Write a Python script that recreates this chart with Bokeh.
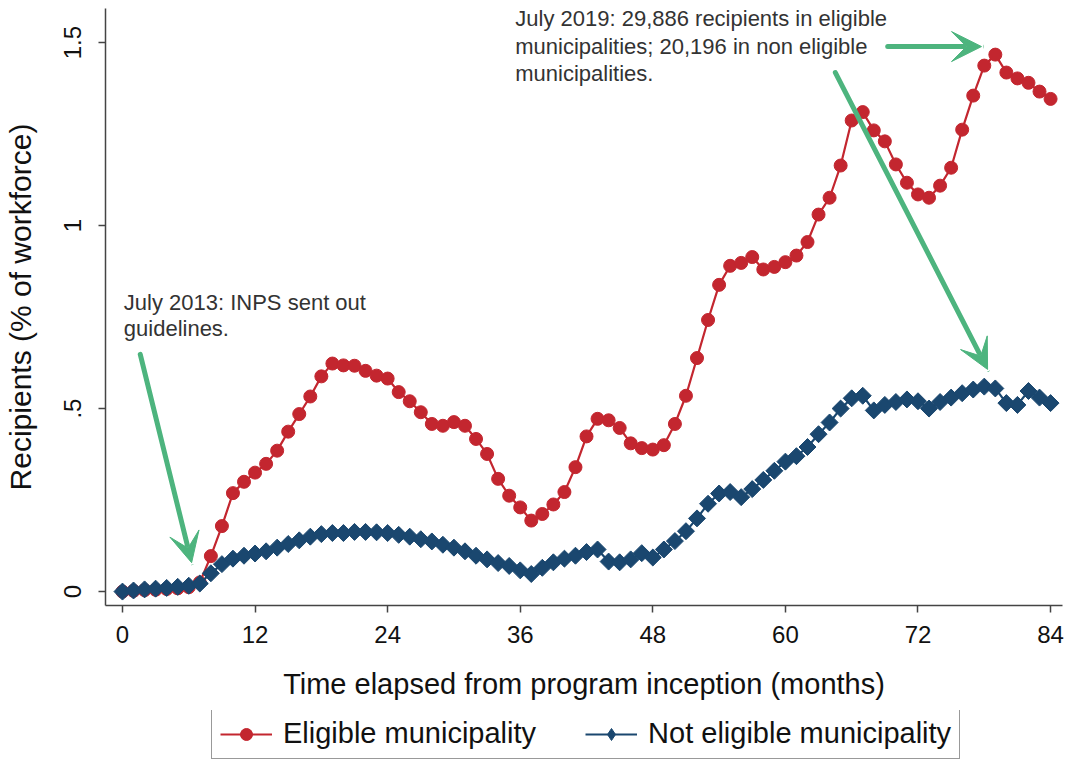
import numpy as np
from bokeh.plotting import figure
from bokeh.layouts import column
from bokeh.models import (Range1d, FixedTicker, Legend, LegendItem, Label, Arrow, VeeHead)
from bokeh.embed import file_html
from bokeh.resources import INLINE

# ---------------- data ----------------
months = list(range(0, 85))

eligible = [
    0.000, 0.002, 0.004, 0.005, 0.007, 0.009, 0.012, 0.025, 0.097, 0.179,
    0.269, 0.300, 0.325, 0.349, 0.385, 0.437, 0.485, 0.533, 0.588, 0.623,
    0.618, 0.617, 0.603, 0.590, 0.582, 0.545, 0.520, 0.490, 0.458, 0.453,
    0.463, 0.453, 0.417, 0.376, 0.308, 0.262, 0.230, 0.194, 0.212, 0.238,
    0.272, 0.340, 0.424, 0.472, 0.468, 0.447, 0.405, 0.392, 0.388, 0.400,
    0.458, 0.535, 0.638, 0.742, 0.838, 0.890, 0.898, 0.914, 0.880, 0.887,
    0.900, 0.918, 0.955, 1.030, 1.076, 1.164, 1.287, 1.310, 1.260, 1.230,
    1.167, 1.117, 1.085, 1.076, 1.109, 1.158, 1.262, 1.355, 1.437, 1.467,
    1.418, 1.402, 1.390, 1.366, 1.346,
]

not_eligible = [
    0.000, 0.003, 0.006, 0.008, 0.010, 0.013, 0.016, 0.022, 0.050, 0.075,
    0.090, 0.098, 0.104, 0.110, 0.120, 0.130, 0.140, 0.150, 0.157, 0.160,
    0.160, 0.163, 0.163, 0.162, 0.160, 0.155, 0.150, 0.143, 0.137, 0.128,
    0.120, 0.110, 0.098, 0.088, 0.078, 0.070, 0.058, 0.048, 0.065, 0.080,
    0.090, 0.098, 0.108, 0.115, 0.082, 0.080, 0.088, 0.105, 0.093, 0.115,
    0.138, 0.165, 0.200, 0.240, 0.268, 0.272, 0.258, 0.280, 0.305, 0.330,
    0.355, 0.370, 0.395, 0.430, 0.462, 0.500, 0.528, 0.535, 0.495, 0.510,
    0.518, 0.525, 0.520, 0.500, 0.518, 0.530, 0.542, 0.552, 0.560, 0.555,
    0.515, 0.510, 0.548, 0.530, 0.515,
]

x_ticks = [0, 12, 24, 36, 48, 60, 72, 84]
y_ticks = [0, 0.5, 1, 1.5]
y_tick_labels = ["0", ".5", "1", "1.5"]

series_names = ["Eligible municipality", "Not eligible municipality"]
x_title = "Time elapsed from program inception (months)"
y_title = "Recipients (% of workforce)"
note_2013 = ["July 2013: INPS sent out", "guidelines."]
note_2019 = ["July 2019: 29,886 recipients in eligible",
             "municipalities; 20,196 in non eligible",
             "municipalities."]

# ---------------- style ----------------
FONT = "Liberation Sans"
RED = "#C3262F"
BLUE = "#1A476F"
GREEN = "#4DB47E"
AXIS = "#444444"
W = 1065

p = figure(width=W, height=710,
           x_range=Range1d(-1.536, 85.08), y_range=Range1d(-0.038, 1.593),
           output_backend="svg", toolbar_location=None,
           min_border_left=103, min_border_right=3, min_border_top=8,
           min_border_bottom=105)
p.outline_line_color = None
p.grid.visible = False
p.background_fill_color = "white"
p.border_fill_color = "white"

# series
p.line(months, eligible, line_color=RED, line_width=2.2)
p.scatter(months, eligible, marker="circle", size=13, fill_color=RED, line_color=RED)
p.line(months, not_eligible, line_color=BLUE, line_width=2.2)
p.scatter(months, not_eligible, marker="square", size=12, angle=np.pi / 4,
          fill_color=BLUE, line_color=BLUE)

# axes
for ax in (p.xaxis[0], p.yaxis[0]):
    ax.axis_line_color = AXIS
    ax.axis_line_width = 1.5
    ax.major_tick_line_color = AXIS
    ax.major_tick_line_width = 1.5
    ax.major_tick_out = 7
    ax.major_tick_in = 0
    ax.minor_tick_line_color = None
    ax.major_label_text_font = FONT
    ax.major_label_text_font_size = "24px"
    ax.major_label_text_color = "#111111"
    ax.axis_label_text_font = FONT
    ax.axis_label_text_font_style = "normal"
    ax.axis_label_text_color = "#111111"

p.xaxis.ticker = FixedTicker(ticks=x_ticks)
p.xaxis.major_label_standoff = 13
p.xaxis.axis_label = x_title
p.xaxis.axis_label_text_font_size = "29px"
p.xaxis.axis_label_standoff = 22

p.yaxis.ticker = FixedTicker(ticks=y_ticks)
p.yaxis.major_label_overrides = {t: l for t, l in zip(y_ticks, y_tick_labels)}
p.yaxis.major_label_orientation = "vertical"
p.yaxis.major_label_standoff = 17
p.yaxis.axis_label = y_title
p.yaxis.axis_label_text_font_size = "30px"
p.yaxis.axis_label_standoff = 25

# annotations
for i, line in enumerate(note_2013):
    p.add_layout(Label(x=0.12, y=0.791 - i * 0.071, text=line, text_font=FONT,
                       text_font_size="22px", text_color="#333333",
                       text_baseline="alphabetic", text_align="left"))
for i, line in enumerate(note_2019):
    p.add_layout(Label(x=35.55, y=1.565 - i * 0.075, text=line, text_font=FONT,
                       text_font_size="22px", text_color="#333333",
                       text_baseline="alphabetic", text_align="left"))

def add_arrow(x0, y0, x1, y1):
    p.add_layout(Arrow(end=VeeHead(size=30, fill_color=GREEN, line_color=GREEN, line_width=1),
                       x_start=x0, y_start=y0, x_end=x1, y_end=y1,
                       line_color=GREEN, line_width=5, line_cap="round"))

add_arrow(1.61, 0.648, 6.26, 0.079)
add_arrow(69.26, 1.489, 77.75, 1.489)
add_arrow(64.52, 1.418, 78.3, 0.607)

# ---------------- legend strip ----------------
leg = figure(width=W, height=49, x_range=Range1d(0, 1), y_range=Range1d(0, 1),
             x_axis_type=None, y_axis_type=None,
             output_backend="svg", toolbar_location=None, min_border=0)
leg.outline_line_color = None
leg.grid.visible = False
k_red_line = leg.line([np.nan, np.nan], [np.nan, np.nan], line_color=RED, line_width=2.2)
k_red_pt = leg.scatter([np.nan], [np.nan], marker="circle", size=15, fill_color=RED, line_color=RED)
k_blue_line = leg.line([np.nan, np.nan], [np.nan, np.nan], line_color=BLUE, line_width=2.2)
k_blue_pt = leg.scatter([np.nan], [np.nan], marker="diamond", size=27, fill_color=BLUE, line_color=BLUE)

legend = Legend(items=[LegendItem(label=series_names[0], renderers=[k_red_line, k_red_pt]),
                       LegendItem(label=series_names[1], renderers=[k_blue_line, k_blue_pt])],
                orientation="horizontal", location=(106, 0))
legend.label_text_font = FONT
legend.label_text_font_size = "29px"
legend.label_text_color = "#111111"
legend.glyph_width = 52
legend.glyph_height = 30
legend.label_standoff = 11
legend.spacing = 49
legend.padding = 8
legend.margin = 0
legend.border_line_color = "#333333"
legend.border_line_width = 1.5
legend.background_fill_alpha = 1
leg.add_layout(legend, "center")

layout = column(p, leg, spacing=0)
open("out.html", "w").write(file_html(layout, INLINE))
